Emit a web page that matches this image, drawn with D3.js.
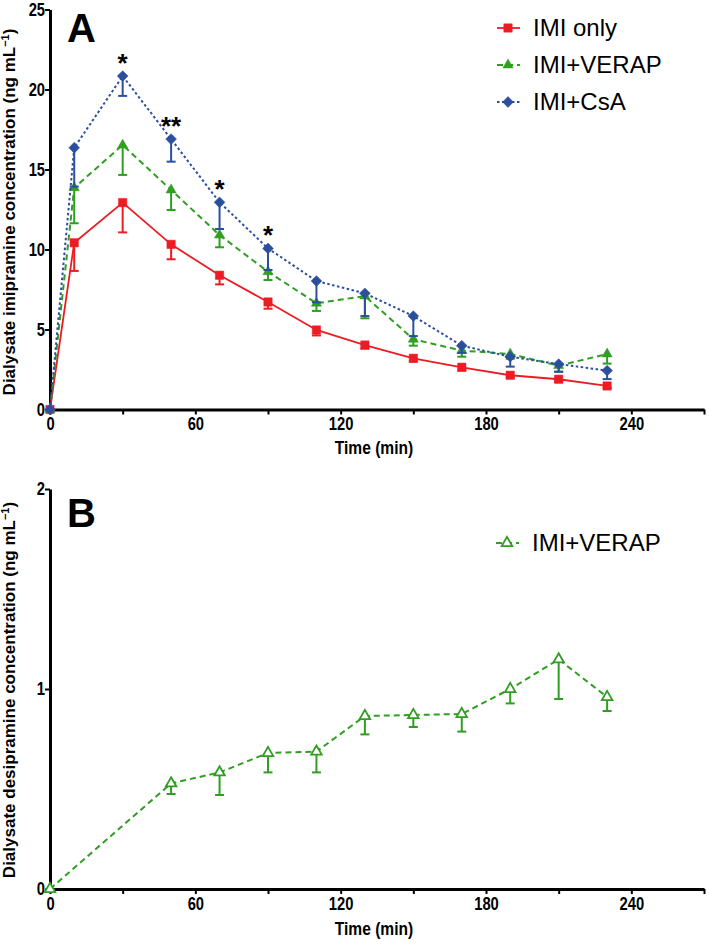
<!DOCTYPE html>
<html><head><meta charset="utf-8">
<script src="https://cdn.jsdelivr.net/npm/d3@7"></script>
<style>
body{margin:0;background:#fff;}
svg{display:block;}
.tick text{font-family:"Liberation Sans",Arial,sans-serif;font-weight:bold;font-size:18px;fill:#000;}
</style></head>
<body>
<svg id="chart" width="709" height="944"></svg>
<script>
// ---------- data ----------
const timesA = [0,10,30,50,70,90,110,130,150,170,190,210,230];
const imiOnlyMean = [0,10.42,12.93,10.32,8.39,6.72,4.97,4.03,3.2,2.64,2.14,1.89,1.47];
const imiOnlySem  = [0,1.76,1.86,0.93,0.57,0.42,0.34,0.22,0.2,0.2,0.15,0.15,0.12];
const imiVerapMean = [0,13.86,16.53,13.72,10.9,8.61,6.64,7.09,4.39,3.68,3.47,2.74,3.47];
const imiVerapSem  = [0,2.22,1.87,1.25,0.76,0.52,0.48,1.39,0.4,0.38,0.3,0.38,0.6];
const imiCsaMean = [0,16.36,20.84,16.9,12.95,10.07,8.03,7.26,5.84,3.99,3.3,2.84,2.43];
const imiCsaSem  = [0,2.43,1.24,1.41,1.67,1.35,1.33,1.42,1.25,0.45,0.62,0.48,0.53];
const sigTimes  = [30,50,70,90];
const sigLabels = ["*","**","*","*"];

const timesB = [0,50,70,90,110,130,150,170,190,210,230];
const desiMean = [0,0.528,0.583,0.68,0.687,0.865,0.87,0.875,1.0,1.148,0.96];
const desiSem  = [0,0.053,0.113,0.097,0.104,0.092,0.06,0.088,0.072,0.198,0.07];

const xTicks = [0,30,60,90,120,150,180,210,240,270];
const xTickLabels = {0:"0",60:"60",120:"120",180:"180",240:"240"};
const yTicksA = [0,5,10,15,20,25];
const yTicksB = [0,1,2];

// ---------- setup ----------
const svg = d3.select("#chart");
const RED = "#ec1c24", GREEN = "#2f9e22", BLUE = "#2c4f9d";
const sans = '"Liberation Sans",Arial,sans-serif';
const NARROW = 0.82;

const xA = d3.scaleLinear().domain([0,270]).range([50,704]);
const yA = d3.scaleLinear().domain([0,25]).range([409.5,9.5]);
const xB = d3.scaleLinear().domain([0,270]).range([50,704]);
const yB = d3.scaleLinear().domain([0,2]).range([889,489]);

function drawAxes(g, x, y, yTicks){
  const ax = g.append("g").attr("transform",`translate(0,${y.range()[0]})`)
    .call(d3.axisBottom(x).tickValues(xTicks).tickSize(5).tickSizeOuter(0).tickPadding(3)
      .tickFormat(d => xTickLabels[d] !== undefined ? xTickLabels[d] : ""));
  ax.select(".domain").attr("stroke-width",3).attr("stroke","#000");
  ax.selectAll(".tick line").attr("stroke-width",2);
  ax.selectAll(".tick text").attr("transform",`scale(${NARROW},1)`);
  const ay = g.append("g").attr("transform",`translate(${x.range()[0]},0)`)
    .call(d3.axisLeft(y).tickValues(yTicks).tickSize(5).tickSizeOuter(0).tickPadding(1).tickFormat(d3.format("d")));
  ay.select(".domain").attr("stroke-width",3).attr("stroke","#000");
  ay.selectAll(".tick line").attr("stroke-width",2);
  ay.selectAll(".tick text").attr("transform",`scale(${NARROW},1)`);
}

function symbolPath(kind, size){
  if(kind==="triangle") return d3.symbol().type(d3.symbolTriangle).size(size)();
  return d3.symbol().type(d3.symbolSquare).size(size)();
}

function drawSeries(g, x, y, times, mean, sem, opt){
  const pts = times.map((t,i)=>({t, m:mean[i], s:sem[i]}));
  const eb = g.append("g");
  pts.filter(p=>p.s>0).forEach(p=>{
    eb.append("line").attr("x1",x(p.t)).attr("x2",x(p.t)).attr("y1",y(p.m)).attr("y2",y(p.m-p.s))
      .attr("stroke",opt.color).attr("stroke-width",2);
    eb.append("line").attr("x1",x(p.t)-4.5).attr("x2",x(p.t)+4.5).attr("y1",y(p.m-p.s)).attr("y2",y(p.m-p.s))
      .attr("stroke",opt.color).attr("stroke-width",2);
  });
  g.append("path").datum(pts)
    .attr("d", d3.line().x(p=>x(p.t)).y(p=>y(p.m)))
    .attr("fill","none").attr("stroke",opt.color).attr("stroke-width",opt.width)
    .attr("stroke-dasharray",opt.dash||null);
  g.selectAll(null).data(pts).enter().append("path")
    .attr("d", symbolPath(opt.symbol, opt.size))
    .attr("transform", p=>`translate(${x(p.t)},${y(p.m)})` + (opt.symbol==="diamond"?" rotate(45)":""))
    .attr("fill", opt.open ? "#fff" : opt.color)
    .attr("stroke", opt.color).attr("stroke-width", opt.open?1.8:0.5);
}

function legendItem(g, xm, yb, label, opt){
  g.append("line").attr("x1",xm-11).attr("x2",xm+12).attr("y1",yb-8).attr("y2",yb-8)
    .attr("stroke",opt.color).attr("stroke-width",opt.width).attr("stroke-dasharray",opt.dash||null);
  g.append("path").attr("d",symbolPath(opt.symbol,opt.size))
    .attr("transform",`translate(${xm},${yb-8})`+(opt.symbol==="diamond"?" rotate(45)":""))
    .attr("fill",opt.open?"#fff":opt.color).attr("stroke",opt.color).attr("stroke-width",opt.open?1.8:0.5);
  g.append("text").attr("x",xm+25).attr("y",yb).text(label)
    .attr("font-family",sans).attr("font-size",24).attr("fill","#000");
}

function yTitle(g, cx, cy, main){
  const t = g.append("text").attr("transform",`translate(${cx},${cy}) rotate(-90)`)
    .attr("text-anchor","middle").attr("font-family",sans).attr("font-weight","bold").attr("font-size",17);
  t.append("tspan").text(main + " (ng mL");
  t.append("tspan").attr("baseline-shift","super").attr("font-size",11).text("\u22121");
  t.append("tspan").text(")");
}

function xTitle(g, cx, by){
  g.append("text").attr("transform",`translate(${cx},${by}) scale(${NARROW},1)`)
    .attr("text-anchor","middle").attr("font-family",sans).attr("font-weight","bold")
    .attr("font-size",19).text("Time (min)");
}

// ---------- Panel A ----------
const gA = svg.append("g");
drawAxes(gA, xA, yA, yTicksA);
const optRed = {color:RED, width:1.8, symbol:"square", size:70};
const optGreen = {color:GREEN, width:2, dash:"6,4", symbol:"triangle", size:45};
const optBlue = {color:BLUE, width:2, dash:"2.5,2.5", symbol:"diamond", size:58};
drawSeries(gA, xA, yA, timesA, imiOnlyMean, imiOnlySem, optRed);
drawSeries(gA, xA, yA, timesA, imiVerapMean, imiVerapSem, optGreen);
drawSeries(gA, xA, yA, timesA, imiCsaMean, imiCsaSem, optBlue);
sigTimes.forEach((t,i)=>{
  const idx = timesA.indexOf(t);
  gA.append("text").attr("x",xA(t)).attr("y",yA(imiCsaMean[idx])-4)
    .attr("text-anchor","middle").attr("font-family",sans).attr("font-weight","bold")
    .attr("font-size",26).text(sigLabels[i]);
});
gA.append("text").attr("x",67).attr("y",42).text("A")
  .attr("font-family",sans).attr("font-weight","bold").attr("font-size",40);
legendItem(gA, 508, 36, "IMI only", optRed);
legendItem(gA, 508, 73, "IMI+VERAP", optGreen);
legendItem(gA, 508, 110, "IMI+CsA", optBlue);
xTitle(gA, 374, 454);
yTitle(gA, 15, 212, "Dialysate imipramine concentration");

// ---------- Panel B ----------
const gB = svg.append("g");
drawAxes(gB, xB, yB, yTicksB);
const optOpen = {color:GREEN, width:2, dash:"6,4", symbol:"triangle", size:48, open:true};
drawSeries(gB, xB, yB, timesB, desiMean, desiSem, optOpen);
gB.append("text").attr("x",67).attr("y",527).text("B")
  .attr("font-family",sans).attr("font-weight","bold").attr("font-size",40);
legendItem(gB, 507, 551, "IMI+VERAP", optOpen);
xTitle(gB, 374, 935);
yTitle(gB, 15, 690, "Dialysate desipramine concentration");
</script>
</body></html>
